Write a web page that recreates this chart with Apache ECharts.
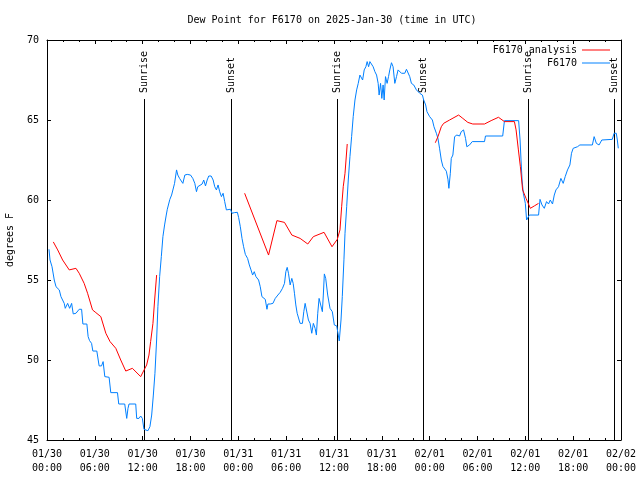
<!DOCTYPE html>
<html><head><meta charset="utf-8">
<script src="https://cdn.jsdelivr.net/npm/echarts@6/dist/echarts.min.js"></script>
<style>html,body{margin:0;padding:0;background:#fff}#c{width:640px;height:480px}</style>
</head><body><div id="c"></div>
<script>
// Hours since 01/30 00:00 UTC
const tickDates = ['01/30','01/30','01/30','01/30','01/31','01/31','01/31','01/31','02/01','02/01','02/01','02/01','02/02'];
const tickTimes = ['00:00','06:00','12:00','18:00','00:00','06:00','12:00','18:00','00:00','06:00','12:00','18:00','00:00'];

const obsHours = [0.25,0.38,0.63,0.84,0.91,1.13,1.54,1.75,2.16,2.29,2.59,2.84,3.09,3.29,3.63,4.04,4.34,4.5,5.0,5.16,5.34,5.59,5.75,6.25,6.54,6.84,7.04,7.25,7.79,8.0,8.84,9.0,9.75,10.0,10.16,10.29,11.13,11.25,11.54,11.75,11.96,12.16,12.66,12.91,13.13,13.34,13.54,13.75,13.91,14.13,14.34,14.54,14.75,14.96,15.09,15.29,15.41,15.63,15.84,16.0,16.25,16.41,16.63,16.84,17.04,17.29,17.59,18.0,18.29,18.54,18.75,18.91,19.16,19.46,19.66,19.88,20.09,20.29,20.59,20.84,21.04,21.25,21.46,21.66,21.88,22.09,22.29,22.5,22.71,23.0,23.21,23.5,23.88,24.04,24.25,24.46,24.66,24.88,25.16,25.38,25.59,25.79,26.0,26.21,26.41,26.54,26.75,26.96,27.16,27.38,27.59,27.71,28.0,28.34,28.63,28.96,29.25,29.54,29.79,29.96,30.13,30.29,30.5,30.71,30.88,31.04,31.21,31.38,31.54,31.75,32.04,32.21,32.38,32.59,32.79,33.0,33.21,33.41,33.63,33.79,33.96,34.13,34.38,34.54,34.66,34.79,34.96,35.21,35.5,35.79,36.04,36.34,36.54,36.66,36.88,37.04,37.25,37.38,37.59,37.79,38.0,38.21,38.41,38.63,38.84,39.04,39.25,39.46,39.59,39.79,40.0,40.16,40.34,40.5,40.71,40.91,41.13,41.34,41.54,41.66,41.84,42.0,42.16,42.29,42.46,42.66,42.84,43.0,43.21,43.41,43.63,43.84,44.04,44.25,44.46,44.66,44.88,45.09,45.29,45.5,45.71,46.0,46.34,46.75,47.09,47.25,47.5,47.66,48.0,48.34,48.54,48.84,49.04,49.25,49.46,49.66,49.88,50.09,50.29,50.41,50.59,50.71,50.91,51.13,51.41,51.75,51.96,52.25,52.5,52.66,53.0,53.34,54.88,55.0,57.16,57.38,59.16,59.34,59.46,59.59,59.75,60.0,60.16,60.5,61.66,61.84,62.09,62.38,62.66,62.91,63.13,63.41,63.63,63.84,64.16,64.46,64.75,65.0,65.29,65.59,65.79,66.0,66.25,66.54,66.84,68.41,68.63,68.91,69.25,69.59,70.91,71.13,71.41,71.54,71.66];
const obsValues = [56.92,56.25,55.83,55.73,55.0,54.58,54.38,53.96,53.54,53.23,53.54,53.23,53.54,52.88,52.92,53.17,53.17,52.25,52.25,51.46,51.21,51.04,50.56,50.56,49.63,49.63,49.9,48.96,48.92,47.96,47.96,47.25,47.25,46.35,46.98,47.25,47.25,46.35,46.35,46.5,46.35,45.67,45.58,45.83,46.56,47.81,49.17,51.25,53.33,55.21,56.46,57.71,58.44,59.06,59.42,59.48,60.04,60.31,60.42,61.04,61.88,61.56,61.35,61.46,61.04,61.56,61.6,61.56,61.35,61.04,60.52,60.83,60.94,61.0,61.25,60.88,61.25,61.5,61.5,61.25,60.83,60.63,60.94,60.52,60.21,60.42,59.9,59.38,59.33,59.42,59.17,59.21,59.23,58.9,58.33,57.6,57.08,56.6,56.35,55.94,55.63,55.31,55.52,55.21,55.31,55.0,54.58,53.96,54.06,53.79,53.17,53.5,53.5,53.54,53.85,54.06,54.23,54.48,54.79,55.52,55.79,55.42,54.69,55.1,54.79,54.17,53.44,52.92,52.81,52.29,52.29,53.02,53.54,53.44,52.5,52.29,51.67,52.29,51.98,51.56,52.92,53.85,53.85,53.02,54.06,55.38,55.1,54.06,53.23,53.02,52.19,52.13,51.56,51.19,52.5,53.96,56.3,57.92,59.58,61.25,62.71,63.96,65.21,66.25,66.88,67.29,67.81,67.92,67.5,68.13,68.33,68.65,68.33,68.65,68.54,68.33,68.02,67.81,67.29,66.56,67.29,66.35,67.19,66.25,67.71,67.29,67.71,68.13,68.58,68.33,67.29,67.71,68.13,68.17,67.92,68.02,67.92,68.17,68.17,67.71,67.29,67.19,66.88,66.67,66.56,66.25,65.94,65.52,65.21,65.0,64.58,64.17,63.85,63.2,62.5,62.1,62.15,61.8,61.3,60.73,61.67,62.6,62.81,63.96,64.06,64.0,64.27,64.38,63.85,63.33,63.44,63.65,63.65,64.0,64.0,64.96,64.96,63.75,62.5,61.25,60.42,59.79,58.75,59.06,59.06,60.04,59.69,59.48,59.9,59.75,60.0,59.75,60.31,60.63,60.83,61.35,61.04,61.46,61.88,62.19,62.92,63.23,63.13,63.33,63.44,63.44,63.96,63.54,63.44,63.75,63.79,64.17,64.17,63.75,63.23];

const anaHours = [0.79,1.34,1.96,2.79,3.63,4.04,4.66,5.09,5.71,6.13,6.75,7.38,7.91,8.63,9.25,9.88,10.71,11.75,12.5,12.79,13.0,13.29,13.5,13.75,19.0,24.79,27.79,28.84,29.79,30.71,31.75,32.71,33.41,34.75,35.75,36.41,36.75,36.96,37.16,37.38,37.66,43.0,48.71,49.04,49.46,49.75,50.5,51.63,52.16,52.79,53.41,54.88,55.71,56.63,57.38,58.63,58.84,59.13,59.38,59.66,60.09,60.63,61.13,61.66];
const anaValues = [57.38,56.88,56.25,55.63,55.73,55.42,54.79,54.17,53.13,52.96,52.71,51.67,51.15,50.73,50.0,49.31,49.48,48.96,49.69,50.31,51.15,52.29,53.75,55.31,null,60.42,56.56,58.71,58.6,57.81,57.6,57.25,57.71,57.98,57.08,57.54,58.13,59.58,60.83,61.67,63.5,null,63.58,63.96,64.58,64.79,65.0,65.31,65.1,64.85,64.75,64.75,64.96,65.17,64.9,64.9,64.38,63.13,62.08,60.63,60.1,59.48,59.63,59.79];

const sunHours = [12.2, 23.09, 36.38, 47.13, 60.39, 71.18];
const sunLabels = ['Sunrise','Sunset','Sunrise','Sunset','Sunrise','Sunset'];

const FONT = 'DejaVu Sans Mono';
const Y_MIN = 45, Y_MAX = 70;

const chart = echarts.init(document.getElementById('c'), null, {renderer: 'canvas'});

const xCommon = {
  type: 'value', min: 0, max: 72, interval: 6,
  axisLine: {onZero: false, lineStyle: {color: '#000', width: 1}},
  axisTick: {inside: true, length: 4, lineStyle: {color: '#000'}},
  minorTick: {show: true, splitNumber: 3, length: 2, lineStyle: {color: '#000'}},
  splitLine: {show: false}
};
const yCommon = {
  type: 'value', min: Y_MIN, max: Y_MAX, interval: 5,
  axisLine: {show: true, onZero: false, lineStyle: {color: '#000', width: 1}},
  axisTick: {show: true, inside: true, length: 4, lineStyle: {color: '#000'}},
  splitLine: {show: false}
};

chart.setOption({
  animation: false,
  backgroundColor: '#fff',
  title: {
    text: 'Dew Point for F6170 on 2025-Jan-30 (time in UTC)',
    left: 327, top: 10, textAlign: 'center',
    textStyle: {fontFamily: FONT, fontSize: 10, fontWeight: 'normal', color: '#000'}
  },
  grid: {left: 47, right: 19, top: 40, bottom: 40, containLabel: false, outerBoundsMode: 'none'},
  legend: {
    orient: 'vertical', right: 30, top: 45, align: 'right',
    icon: 'rect', itemWidth: 28, itemHeight: 1, itemGap: 3, padding: 0,
    data: ['F6170 analysis', 'F6170'],
    textStyle: {fontFamily: FONT, fontSize: 10, color: '#000', padding: [0,0,0,0]}
  },
  xAxis: [
    Object.assign({}, xCommon, {
      position: 'bottom',
      axisLabel: {
        fontFamily: FONT, fontSize: 10, color: '#000', lineHeight: 14, margin: 7,
        formatter: function (v) { const i = Math.round(v / 6); return tickDates[i] + '\n' + tickTimes[i]; }
      }
    }),
    Object.assign({}, xCommon, {position: 'top', axisLabel: {show: false}})
  ],
  yAxis: [
    Object.assign({}, yCommon, {
      position: 'left',
      name: 'degrees F', nameLocation: 'middle', nameGap: 32, nameRotate: 90,
      nameTextStyle: {fontFamily: FONT, fontSize: 10, color: '#000'},
      axisLabel: {fontFamily: FONT, fontSize: 10, color: '#000', margin: 8}
    }),
    Object.assign({}, yCommon, {position: 'right', axisLabel: {show: false}})
  ],
  series: [
    {
      type: 'custom', name: 'sun', silent: true,
      data: sunHours.map(function (t) { return [t, Y_MIN]; }),
      encode: {x: 0, y: 1},
      renderItem: function (params, api) {
        const p = api.coord([api.value(0), Y_MIN]);
        const x = Math.round(p[0]) + 0.5;
        const top = params.coordSys.y + 59;
        return {
          type: 'group',
          children: [
            {type: 'line', shape: {x1: x, y1: p[1], x2: x, y2: top}, style: {stroke: '#000', lineWidth: 1}},
            {type: 'text', x: x, y: top - 6, rotation: Math.PI / 2,
             style: {text: sunLabels[params.dataIndex], fontFamily: FONT, fontSize: 10, fill: '#000',
                     textAlign: 'left', textVerticalAlign: 'middle'}}
          ]
        };
      }
    },
    {
      type: 'line', name: 'F6170', showSymbol: false,
      data: obsHours.map(function (h, i) { return [h, obsValues[i]]; }),
      lineStyle: {color: '#0080ff', width: 1}, itemStyle: {color: '#0080ff'}
    },
    {
      type: 'line', name: 'F6170 analysis', showSymbol: false, connectNulls: false,
      data: anaHours.map(function (h, i) { return [h, anaValues[i] === null ? '-' : anaValues[i]]; }),
      lineStyle: {color: '#ff0000', width: 1}, itemStyle: {color: '#ff0000'}
    }
  ]
});
</script>
</body></html>
